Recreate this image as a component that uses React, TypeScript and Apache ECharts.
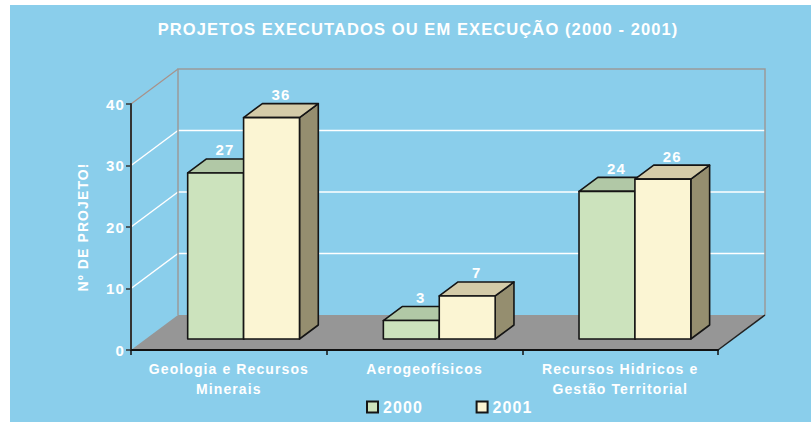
import React, { useEffect, useRef } from "react";
import * as echarts from "echarts";

const categories = ["Geologia e Recursos\nMinerais", "Aerogeofísicos", "Recursos Hidricos e\nGestão Territorial"];
const years = ["2000", "2001"];
const values2000 = [27, 3, 24];
const values2001 = [36, 7, 26];
const yTicks = [0, 10, 20, 30, 40];

const FONT = '"Liberation Sans", Arial, sans-serif';
const DEPTH_X = 47;
const DEPTH_Y = -35;
const F0 = 0.314;
const F1 = 0.714;

const barColors = [
  { front: "#CCE3BD", top: "#B1C8A6", side: "#8FA385" },
  { front: "#FBF5D3", top: "#D4CBA8", side: "#958E6F" },
];

function makeBarRender(sIdx: number) {
  return (params: any, api: any) => {
    const cat = api.value(0);
    const val = api.value(1);
    const base = api.coord([cat, 0]);
    const top = api.coord([cat, val]);
    const catW = api.size([1, 0])[0];
    const bw = catW / 3.5;
    const fx = DEPTH_X * F0;
    const fy = DEPTH_Y * F0;
    const bdx = DEPTH_X * (F1 - F0);
    const bdy = DEPTH_Y * (F1 - F0);
    const x0 = base[0] - bw + sIdx * bw + fx;
    const x1 = x0 + bw;
    const yb = base[1] + fy;
    const yt = top[1] + fy;
    const c = barColors[sIdx];
    const st = { stroke: "#151515", lineWidth: 1.6, lineJoin: "round" };
    return {
      type: "group",
      children: [
        { type: "polygon", shape: { points: [[x1, yt], [x1 + bdx, yt + bdy], [x1 + bdx, yb + bdy], [x1, yb]] }, style: { fill: c.side, ...st } },
        { type: "polygon", shape: { points: [[x0, yt], [x1, yt], [x1 + bdx, yt + bdy], [x0 + bdx, yt + bdy]] }, style: { fill: c.top, ...st } },
        { type: "polygon", shape: { points: [[x0, yt], [x1, yt], [x1, yb], [x0, yb]] }, style: { fill: c.front, ...st } },
        {
          type: "text",
          x: x0 + bw / 2 + bdx / 2,
          y: yt + bdy - 9,
          style: {
            text: String(val),
            fill: "#fff",
            font: "bold 15px " + FONT,
            align: "center",
            verticalAlign: "middle",
            textAlign: "center",
            textVerticalAlign: "middle",
          },
        },
      ],
    };
  };
}

function renderWalls(params: any, api: any) {
  const catW = api.size([1, 0])[0];
  const xL = api.coord([0, 0])[0] - catW / 2;
  const xR = api.coord([categories.length - 1, 0])[0] + catW / 2;
  const y0 = api.coord([0, yTicks[0]])[1];
  const yMax = api.coord([0, yTicks[yTicks.length - 1]])[1];
  const children: any[] = [];
  children.push({
    type: "polygon",
    shape: { points: [[xL, y0], [xR, y0], [xR + DEPTH_X, y0 + DEPTH_Y], [xL + DEPTH_X, y0 + DEPTH_Y]] },
    style: { fill: "#969696" },
  });
  for (let i = 1; i < yTicks.length - 1; i++) {
    const y = api.coord([0, yTicks[i]])[1];
    children.push({ type: "line", shape: { x1: xL + DEPTH_X, y1: y + DEPTH_Y, x2: xR + DEPTH_X, y2: y + DEPTH_Y }, style: { stroke: "#ffffff", lineWidth: 1.5 } });
    children.push({ type: "line", shape: { x1: xL, y1: y, x2: xL + DEPTH_X, y2: y + DEPTH_Y }, style: { stroke: "#ffffff", lineWidth: 1.5 } });
  }
  children.push({ type: "line", shape: { x1: xL, y1: yMax, x2: xL + DEPTH_X, y2: yMax + DEPTH_Y }, style: { stroke: "#A8928A", lineWidth: 1.2 } });
  children.push({
    type: "polyline",
    shape: { points: [[xL + DEPTH_X, y0 + DEPTH_Y], [xL + DEPTH_X, yMax + DEPTH_Y], [xR + DEPTH_X, yMax + DEPTH_Y], [xR + DEPTH_X, y0 + DEPTH_Y]] },
    style: { stroke: "#9A9A9A", lineWidth: 1.5, fill: null },
  });
  children.push({ type: "line", shape: { x1: xR, y1: y0, x2: xR + DEPTH_X, y2: y0 + DEPTH_Y }, style: { stroke: "#222", lineWidth: 1.5 } });
  return { type: "group", children };
}

export default function App() {
  const ref = useRef<HTMLDivElement>(null);
  useEffect(() => {
    if (!ref.current) return;
    const chart = echarts.init(ref.current, undefined, { renderer: "svg" });
    const labelStyle = { color: "#fff", fontWeight: "bold" as const, fontFamily: FONT };
    chart.setOption({
      animation: false,
      backgroundColor: "#8ACEEB",
      title: {
        text: "PROJETOS EXECUTADOS OU EM EXECUÇÃO (2000 - 2001)",
        left: 408,
        top: 16,
        padding: 0,
        textAlign: "center",
        textStyle: { ...labelStyle, fontSize: 16.5, lineHeight: 16 },
      },
      legend: {
        data: years,
        left: 351,
        top: 389,
        icon: "rect",
        itemWidth: 11,
        itemHeight: 11,
        itemGap: 57,
        textStyle: { ...labelStyle, fontSize: 16 },
      },
      grid: { left: 121, right: 93, top: 99, bottom: 72 },
      xAxis: {
        type: "category",
        data: categories,
        z: 10,
        axisLine: { lineStyle: { color: "#111", width: 2 } },
        axisTick: { show: true, length: 5, interval: 0, lineStyle: { color: "#111", width: 1.5 } },
        axisLabel: { ...labelStyle, fontSize: 14, lineHeight: 20, margin: 9, interval: 0 },
      },
      yAxis: {
        type: "value",
        min: yTicks[0],
        max: yTicks[yTicks.length - 1],
        interval: 10,
        z: 10,
        name: "Nº DE PROJETO!",
        nameLocation: "middle",
        nameRotate: 90,
        nameGap: 41,
        nameTextStyle: { ...labelStyle, fontSize: 14 },
        axisLine: { show: true, lineStyle: { color: "#333", width: 2 } },
        axisTick: { show: true, length: 5, lineStyle: { color: "#333", width: 1.5 } },
        axisLabel: { ...labelStyle, fontSize: 15, margin: 6 },
        splitLine: { show: false },
      },
      series: [
        {
          type: "custom",
          name: "walls",
          z: 1,
          clip: false,
          silent: true,
          renderItem: renderWalls,
          data: [[0, 0]],
          encode: { x: 0, y: 1 },
        },
        {
          type: "custom",
          name: years[0],
          z: 2,
          clip: false,
          renderItem: makeBarRender(0),
          itemStyle: { color: barColors[0].front, borderColor: "#151515", borderWidth: 1.5 },
          data: values2000.map((v, i) => [i, v]),
          encode: { x: 0, y: 1 },
        },
        {
          type: "custom",
          name: years[1],
          z: 2,
          clip: false,
          renderItem: makeBarRender(1),
          itemStyle: { color: barColors[1].front, borderColor: "#151515", borderWidth: 1.5 },
          data: values2001.map((v, i) => [i, v]),
          encode: { x: 0, y: 1 },
        },
      ],
    });
    return () => chart.dispose();
  }, []);
  return (
    <div style={{ position: "fixed", left: 0, top: 0, width: 811, height: 422, background: "#fff" }}>
      <style>{"#chartbox text { letter-spacing: 1.1px; }"}</style>
      <div id="chartbox" ref={ref} style={{ position: "absolute", left: 10, top: 5, width: 801, height: 417 }} />
    </div>
  );
}
